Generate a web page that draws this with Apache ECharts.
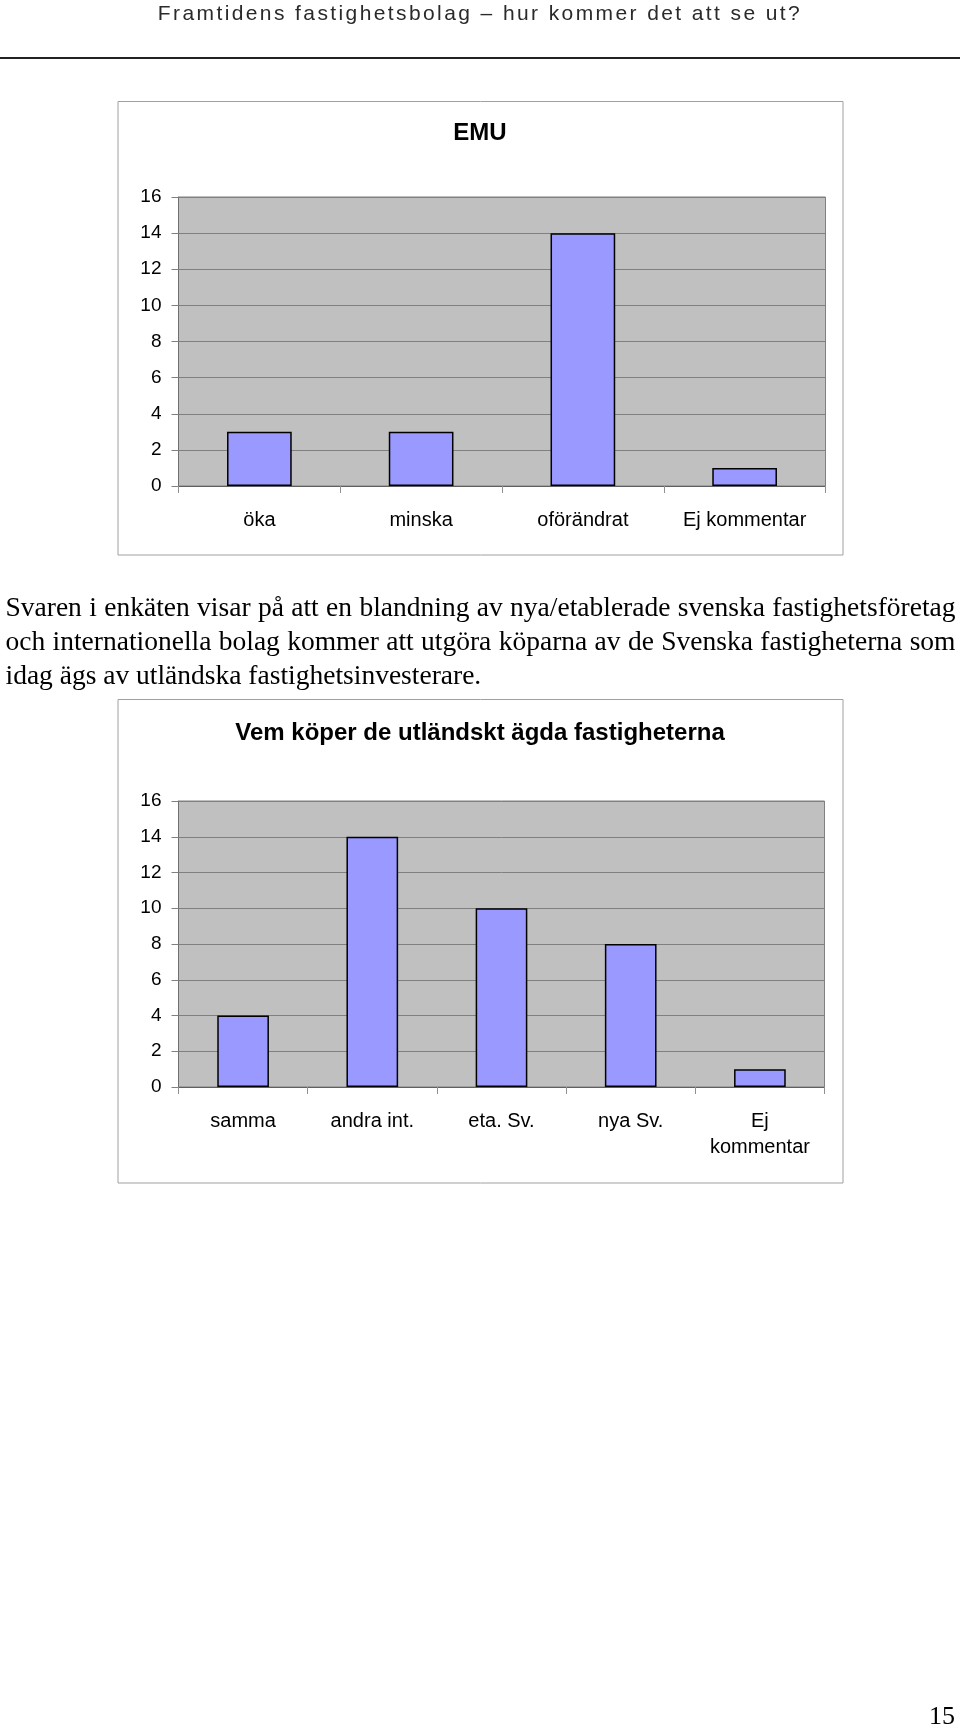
<!DOCTYPE html>
<html><head><meta charset="utf-8">
<script src="https://cdn.jsdelivr.net/npm/echarts@6/dist/echarts.min.js"></script>
<style>
html,body{margin:0;padding:0;background:#fff}
#wrap{position:relative;width:960px;height:1731px}
#c{position:absolute;left:0;top:0;width:960px;height:1731px}
#hdr{position:absolute;left:0;top:0;width:960px;text-align:center;font:21px "Liberation Sans",Arial,sans-serif;letter-spacing:2.4px;color:#2a2a2a;line-height:26px}
#para{position:absolute;left:5.5px;top:590px;width:950px;font:27.5px "Liberation Serif","Times New Roman",serif;line-height:34px;color:#000}
#para .j{text-align:justify;text-align-last:justify;white-space:nowrap}
#para .l{text-align:left;white-space:nowrap}
</style>
</head><body><div id="wrap"><div id="c"></div><div id="hdr"></div><div id="para"></div></div>
<script>
const headerText = 'Framtidens fastighetsbolag – hur kommer det att se ut?';
const chart1Title = 'EMU';
const chart1Categories = ['öka', 'minska', 'oförändrat', 'Ej kommentar'];
const chart1Values = [3, 3, 14, 1];
const chart2Title = 'Vem köper de utländskt ägda fastigheterna';
const chart2Categories = ['samma', 'andra int.', 'eta. Sv.', 'nya Sv.', 'Ej\nkommentar'];
const chart2Values = [4, 14, 10, 8, 1];
const paragraphLines = [
  'Svaren i enkäten visar på att en blandning av nya/etablerade svenska fastighetsföretag',
  'och internationella bolag kommer att utgöra köparna av de Svenska fastigheterna som',
  'idag ägs av utländska fastighetsinvesterare.'
];
const pageNumber = '15';

document.getElementById('hdr').textContent = headerText;
const para = document.getElementById('para');
paragraphLines.forEach((t, i) => {
  const d = document.createElement('div');
  d.className = i < paragraphLines.length - 1 ? 'j' : 'l';
  d.textContent = t;
  para.appendChild(d);
});

const chart = echarts.init(document.getElementById('c'), null, {renderer: 'canvas'});
const sans = '"Liberation Sans", Arial, sans-serif';
const serif = '"Liberation Serif", "Times New Roman", serif';

function yAxis(gi) {
  return {
    gridIndex: gi, type: 'value', min: 0, max: 16, interval: 2,
    axisLine: {show: true, lineStyle: {color: '#707070', width: 1}},
    axisTick: {show: true, length: 7, lineStyle: {color: '#808080'}},
    splitLine: {show: true, lineStyle: {color: '#808080', width: 1}},
    axisLabel: {color: '#000', fontFamily: sans, fontSize: 19, margin: 17}
  };
}
function xAxis(gi, cats) {
  return {
    gridIndex: gi, type: 'category', data: cats,
    axisLine: {show: true, lineStyle: {color: '#606060', width: 1}},
    axisTick: {show: true, length: 7, alignWithLabel: false, lineStyle: {color: '#909090'}},
    axisLabel: {color: '#000', fontFamily: sans, fontSize: 20, margin: 21, lineHeight: 26, interval: 0}
  };
}
function barSeries(gi, vals) {
  return {
    type: 'bar', xAxisIndex: gi, yAxisIndex: gi, data: vals,
    barWidth: '40%',
    itemStyle: {color: '#9999ff', borderColor: '#000', borderWidth: 1.5},
    animation: false
  };
}

chart.setOption({
  animation: false,
  title: [
    {text: chart1Title, left: 'center', top: 116, textStyle: {fontFamily: sans, fontWeight: 'bold', fontSize: 24, color: '#000'}},
    {text: chart2Title, left: 'center', top: 716, textStyle: {fontFamily: sans, fontWeight: 'bold', fontSize: 24, color: '#000'}}
  ],
  grid: [
    {left: 178.5, top: 197, width: 647, height: 289, show: true, backgroundColor: '#c0c0c0', borderColor: '#808080', borderWidth: 1, containLabel: false},
    {left: 178.5, top: 801, width: 646, height: 286, show: true, backgroundColor: '#c0c0c0', borderColor: '#808080', borderWidth: 1, containLabel: false}
  ],
  xAxis: [xAxis(0, chart1Categories), xAxis(1, chart2Categories)],
  yAxis: [yAxis(0), yAxis(1)],
  series: [barSeries(0, chart1Values), barSeries(1, chart2Values)],
  graphic: [
    {type: 'line', shape: {x1: 0, y1: 58, x2: 960, y2: 58}, style: {stroke: '#222', lineWidth: 2}},
    {type: 'rect', shape: {x: 118, y: 101.5, width: 725, height: 453.5}, style: {fill: 'none', stroke: '#a0a0a0', lineWidth: 1}, z: -1},
    {type: 'rect', shape: {x: 118, y: 699.5, width: 725, height: 483.5}, style: {fill: 'none', stroke: '#a0a0a0', lineWidth: 1}, z: -1},
    {type: 'text', left: 929, top: 1704, style: {text: pageNumber, font: '26px ' + serif, fill: '#000'}}
  ]
});
</script>
</body></html>
